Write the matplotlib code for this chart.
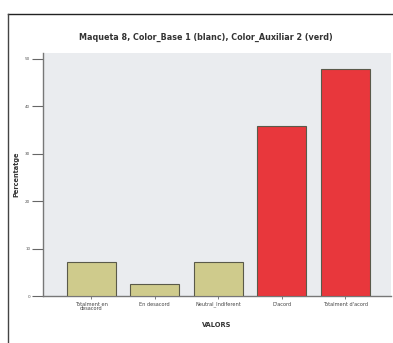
import matplotlib
matplotlib.use("Agg")
import matplotlib.pyplot as plt
from matplotlib.lines import Line2D

categories = ["Totalment en\ndesacord", "En desacord", "Neutral_Indiferent", "D'acord", "Totalment d'acord"]
values = [7.1, 2.6, 7.1, 35.9, 47.9]
colors = ["#CFCB8C", "#CFCB8C", "#CFCB8C", "#E8373C", "#E8373C"]
yticks = [0, 10, 20, 30, 40, 50]
title = "Maqueta 8, Color_Base 1 (blanc), Color_Auxiliar 2 (verd)"

fig = plt.figure(figsize=(3.93, 3.43), dpi=100)
fig.patch.set_facecolor("white")
ax = fig.add_axes([0.109, 0.137, 0.886, 0.708])
ax.set_facecolor("#EAECEF")
x = list(range(len(categories)))
ax.bar(x, values, width=0.77, color=colors, edgecolor="#5a5a4a", linewidth=0.8, zorder=3)
ax.set_xlim(-0.76, 4.72)
ax.set_ylim(0, 51.2)
ax.set_yticks(yticks)
ax.set_yticklabels([str(t) for t in yticks], fontsize=3, color="#555555")
ax.set_xticks(x)
ax.set_xticklabels(categories, fontsize=3.6, color="#444444", linespacing=0.9)
ax.tick_params(axis="y", length=8, width=0.8, color="#666666", pad=1)
ax.tick_params(axis="x", length=2, width=0.6, color="#666666", pad=2)
for s in ["top", "right"]:
    ax.spines[s].set_visible(False)
ax.spines["left"].set_color("#777777")
ax.spines["bottom"].set_color("#777777")
ax.spines["left"].set_linewidth(1.0)
ax.spines["bottom"].set_linewidth(1.0)
ax.set_xlabel("VALORS", fontsize=4.8, fontweight="bold", color="#333333", labelpad=8)
ax.set_ylabel("Percentatge", fontsize=4.8, fontweight="bold", color="#333333", labelpad=4)
fig.text(0.523, 0.892, title, fontsize=5.8, fontweight="bold", color="#333333", ha="center", va="center")

fig.add_artist(Line2D([8/393, 1.0], [1-14/343, 1-14/343], color="#222222", linewidth=1.0))
fig.add_artist(Line2D([8/393, 8/393], [0, 1-14/343], color="#444444", linewidth=1.0))

fig.savefig("out.png", dpi=100)
